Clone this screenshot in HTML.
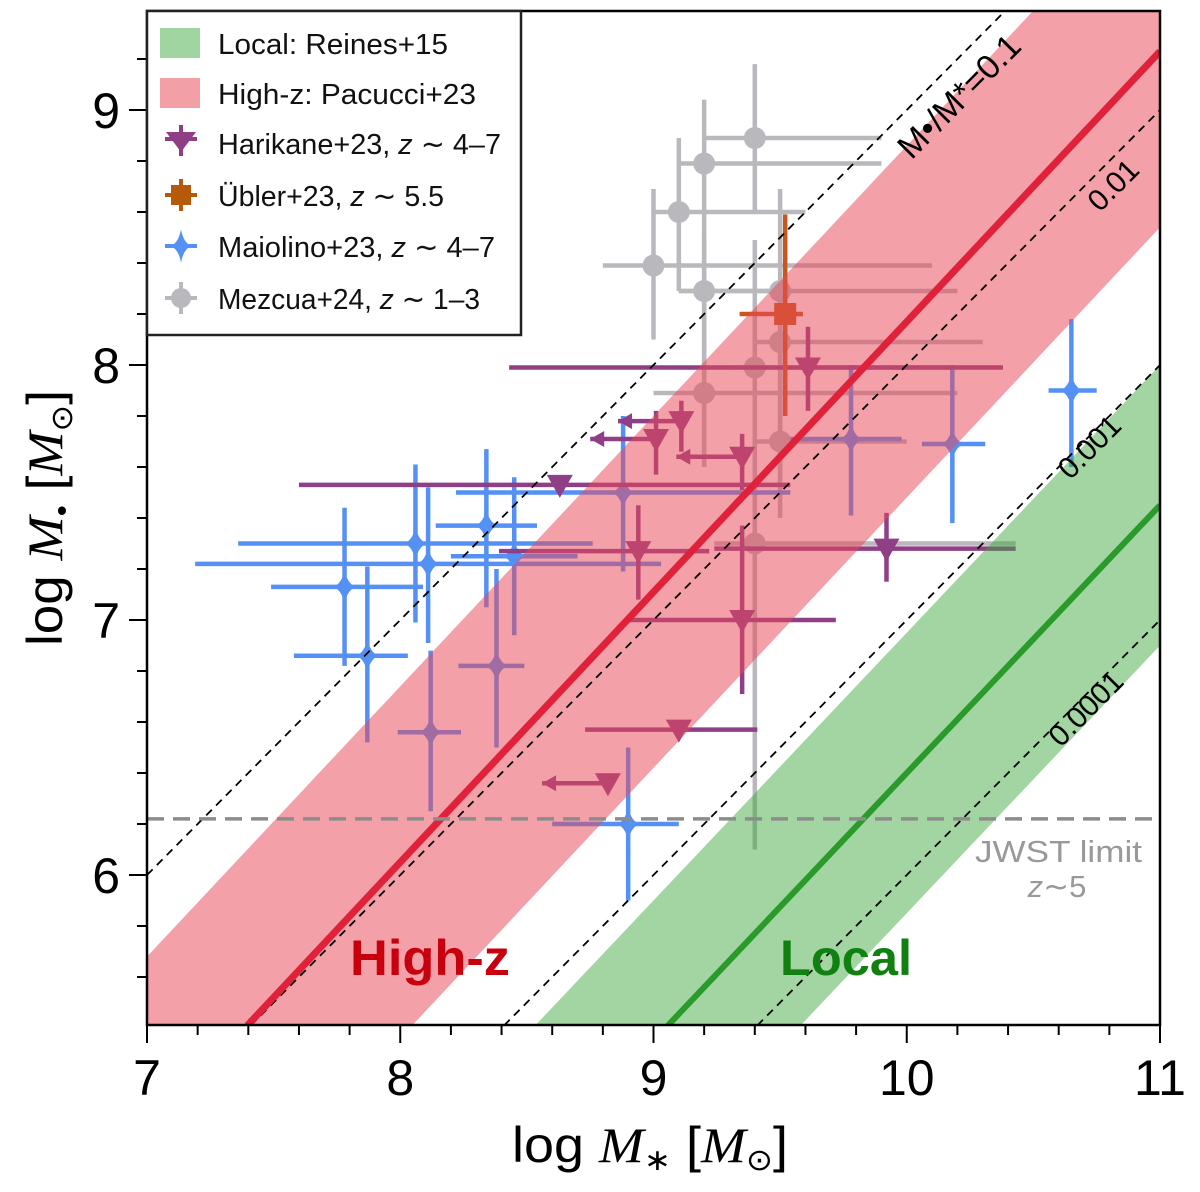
<!DOCTYPE html>
<html><head><meta charset="utf-8"><style>
html,body{margin:0;padding:0;background:#fff;width:1200px;height:1192px;overflow:hidden;}
svg{display:block;font-family:"Liberation Sans",sans-serif;}
</style></head><body>
<svg id="chart" width="1200" height="1192" viewBox="0 0 1200 1192">
<defs><clipPath id="clip"><rect x="147" y="11" width="1013" height="1014"/></clipPath></defs>
<g id="data" clip-path="url(#clip)"></g>
<g id="bands" clip-path="url(#clip)"></g>
<g id="lines" clip-path="url(#clip)"></g>
<g id="axes"></g>
<text x="512" y="1162" font-size="50" textLength="276" lengthAdjust="spacingAndGlyphs">log <tspan font-style="italic" font-family="Liberation Serif">M</tspan><tspan font-size="30" dy="8">∗</tspan><tspan dy="-8"> [</tspan><tspan font-style="italic" font-family="Liberation Serif">M</tspan><tspan font-size="30" dy="8">⊙</tspan><tspan dy="-8">]</tspan></text>
<text x="62" y="518" font-size="50" text-anchor="middle" textLength="256" lengthAdjust="spacingAndGlyphs" transform="rotate(-90 62 518)">log <tspan font-style="italic" font-family="Liberation Serif">M</tspan><tspan font-size="30" dy="10">•</tspan><tspan dy="-10"> [</tspan><tspan font-style="italic" font-family="Liberation Serif">M</tspan><tspan font-size="30" dy="10">⊙</tspan><tspan dy="-10">]</tspan></text>
<text x="350" y="975" font-size="50" font-weight="bold" fill="#c8000e" textLength="160" lengthAdjust="spacingAndGlyphs">High-z</text>
<text x="780" y="975" font-size="50" font-weight="bold" fill="#108010" textLength="132" lengthAdjust="spacingAndGlyphs">Local</text>
<text x="1142" y="862" font-size="31" fill="#999" text-anchor="end" textLength="167" lengthAdjust="spacingAndGlyphs">JWST limit</text>
<text x="1057" y="897" font-size="31" fill="#999" text-anchor="middle"><tspan font-style="italic">z</tspan>∼5</text>
<g>
<rect x="147" y="11" width="374" height="324" fill="#fff" stroke="#222" stroke-width="2.5"/>
<rect x="160" y="28" width="40" height="30" fill="#a0d4a0"/>
<rect x="160" y="78" width="40" height="30" fill="#f29fa6"/>
<path d="M166 132L196 132L181 152Z" fill="#8f3f86"/><line x1="165" y1="139" x2="197" y2="139" stroke="#8f3f86" stroke-width="4"/><line x1="181" y1="125" x2="181" y2="156" stroke="#8f3f86" stroke-width="4"/>
<rect x="171" y="185" width="20" height="20" fill="#b65a0a"/><line x1="165" y1="195" x2="197" y2="195" stroke="#b65a0a" stroke-width="4"/><line x1="181" y1="179" x2="181" y2="211" stroke="#b65a0a" stroke-width="4"/>
<path d="M181 229Q183 242 191 246Q183 250 181 263Q179 250 171 246Q179 242 181 229Z" fill="#5590f5"/><line x1="165" y1="246" x2="197" y2="246" stroke="#5590f5" stroke-width="4"/>
<circle cx="181" cy="298" r="10" fill="#b9b9bd"/><line x1="165" y1="298" x2="197" y2="298" stroke="#b9b9bd" stroke-width="4"/><line x1="181" y1="282" x2="181" y2="314" stroke="#b9b9bd" stroke-width="4"/>
<g font-size="29" fill="#111">
<text x="218" y="54" textLength="230" lengthAdjust="spacingAndGlyphs">Local: Reines+15</text>
<text x="218" y="104" textLength="258" lengthAdjust="spacingAndGlyphs">High-z: Pacucci+23</text>
<text x="218" y="154" textLength="283" lengthAdjust="spacingAndGlyphs">Harikane+23, <tspan font-style="italic">z</tspan> ∼ 4–7</text>
<text x="218" y="206" textLength="226" lengthAdjust="spacingAndGlyphs">Übler+23, <tspan font-style="italic">z</tspan> ∼ 5.5</text>
<text x="218" y="257" textLength="277" lengthAdjust="spacingAndGlyphs">Maiolino+23, <tspan font-style="italic">z</tspan> ∼ 4–7</text>
<text x="218" y="309" textLength="262" lengthAdjust="spacingAndGlyphs">Mezcua+24, <tspan font-style="italic">z</tspan> ∼ 1–3</text>
</g>
</g>
</svg>
<script>
// ---- data ----
const mezX=[9.40,9.20,9.10,9.00,9.20,9.50,9.50,9.40,9.20,9.50,9.40];
const mezY=[8.89,8.79,8.60,8.39,8.29,8.29,8.09,7.99,7.89,7.70,7.30];
const mezXlo=[9.20,9.10,9.00,8.80,9.10,9.10,9.40,9.30,9.00,9.40,9.24];
const mezXhi=[9.90,9.90,9.60,10.10,9.50,10.20,10.30,10.19,10.20,10.00,10.43];
const mezYlo=[8.60,7.60,8.29,8.10,8.10,7.40,7.90,7.30,7.60,7.50,6.10];
const mezYhi=[9.18,9.04,8.89,8.69,8.50,8.69,8.29,8.49,8.10,7.90,7.50];

const harX=[8.63,9.01,9.11,9.35,9.61,8.94,9.92,9.35,9.10,8.82];
const harY=[7.53,7.71,7.78,7.64,7.99,7.27,7.28,7.00,6.57,6.36];
const harXlo=[7.60,8.75,8.86,9.09,8.43,8.39,9.24,8.90,8.73,8.56];
const harXhi=[9.54,9.01,9.11,9.35,10.38,9.22,10.43,9.72,9.41,8.82];
const harYlo=[7.53,7.57,7.66,7.51,7.82,7.08,7.15,6.71,6.57,6.36];
const harYhi=[7.53,7.82,7.86,7.73,8.15,7.45,7.42,7.37,6.57,6.36];
const harArrow=[0,1,1,1,0,0,0,0,0,1];

const maiX=[7.78,7.87,8.06,8.11,8.34,8.45,8.90,10.18,10.65,8.88,8.38,8.12,9.78];
const maiY=[7.13,6.86,7.30,7.22,7.37,7.25,6.20,7.69,7.90,7.50,6.82,6.56,7.71];
const maiXlo=[7.49,7.58,7.36,7.19,8.14,8.20,8.60,10.06,10.56,8.22,8.23,7.99,9.54];
const maiXhi=[8.09,8.03,8.76,9.03,8.54,8.70,9.10,10.31,10.75,9.54,8.49,8.24,9.98];
const maiYlo=[6.82,6.52,6.99,6.91,7.05,6.94,5.90,7.38,7.60,7.19,6.50,6.25,7.41];
const maiYhi=[7.44,7.21,7.61,7.52,7.67,7.56,6.50,8.00,8.18,7.80,7.20,6.88,8.00];

const ubX=[9.52], ubY=[8.20], ubXlo=[9.34], ubXhi=[9.59], ubYlo=[7.80], ubYhi=[8.59];

const xTicks=[7,8,9,10,11];
const yTicks=[6,7,8,9];
const ratios=[-1,-2,-3,-4];
const ratioLabels=["M•/M*=0.1","0.01","0.001","0.0001"];
const ratioLabelX=[10.13,10.76,10.70,10.68];
const hzSlope=1.06, hzInt=-2.43, hzWidth=0.69;
const locSlope=1.05, locInt=7.45, locPivot=11, locWidth=0.55;
const jwst=6.22;

// ---- scales ----
const XMIN=7,XMAX=11,YMIN=5.41,YMAX=9.39;
const X=v=>147+(v-7)*253.25;
const Y=v=>110+(9-v)*255;
const NS="http://www.w3.org/2000/svg";
function mk(tag,attrs,parent){const e=document.createElementNS(NS,tag);for(const k in attrs)e.setAttribute(k,attrs[k]);parent.appendChild(e);return e;}
const gD=document.getElementById('data'),gB=document.getElementById('bands'),gL=document.getElementById('lines'),gA=document.getElementById('axes');

// polygon clip (data space) against plot window
function clipPoly(pts){
  const edges=[[p=>p[0]>=XMIN,(a,b)=>{const t=(XMIN-a[0])/(b[0]-a[0]);return [XMIN,a[1]+t*(b[1]-a[1])];}],
               [p=>p[0]<=XMAX,(a,b)=>{const t=(XMAX-a[0])/(b[0]-a[0]);return [XMAX,a[1]+t*(b[1]-a[1])];}],
               [p=>p[1]>=YMIN,(a,b)=>{const t=(YMIN-a[1])/(b[1]-a[1]);return [a[0]+t*(b[0]-a[0]),YMIN];}],
               [p=>p[1]<=YMAX,(a,b)=>{const t=(YMAX-a[1])/(b[1]-a[1]);return [a[0]+t*(b[0]-a[0]),YMAX];}]];
  let out=pts;
  for(const [inside,inter] of edges){
    const inp=out;out=[];
    for(let i=0;i<inp.length;i++){
      const cur=inp[i],prev=inp[(i+inp.length-1)%inp.length];
      if(inside(cur)){if(!inside(prev))out.push(inter(prev,cur));out.push(cur);}
      else if(inside(prev))out.push(inter(prev,cur));
    }
  }
  return out;
}
function clipLine(f){ // line y=f(x) clipped to window, returns [x1,x2]
  const pts=clipPoly([[XMIN-1,f(XMIN-1)],[XMAX+1,f(XMAX+1)],[XMAX+1,f(XMAX+1)+1e-9],[XMIN-1,f(XMIN-1)+1e-9]]);
  const xs=pts.map(p=>p[0]);return [Math.min(...xs),Math.max(...xs)];
}
const cx_=v=>Math.max(XMIN,Math.min(XMAX,v)), cy_=v=>Math.max(YMIN,Math.min(YMAX,v));

function errbars(xs,ys,xlo,xhi,ylo,yhi,col,name,i){
  const g=mk('g',{},gD);
  
  
  mk('line',{x1:X(cx_(xlo[i])),x2:X(cx_(xhi[i])),y1:Y(ys[i]),y2:Y(ys[i]),stroke:col,'stroke-width':4.5},g);
  mk('line',{x1:X(xs[i]),x2:X(xs[i]),y1:Y(cy_(ylo[i])),y2:Y(cy_(yhi[i])),stroke:col,'stroke-width':4.5},g);
  return g;
}
mezX.forEach((_,i)=>{const g=errbars(mezX,mezY,mezXlo,mezXhi,mezYlo,mezYhi,'#b9b9bd','mezcua-point',i);
  mk('circle',{cx:X(mezX[i]),cy:Y(mezY[i]),r:11,fill:'#b9b9bd'},g);});
maiX.forEach((_,i)=>{const g=errbars(maiX,maiY,maiXlo,maiXhi,maiYlo,maiYhi,'#5590f5','maiolino-point',i);
  const cx=X(maiX[i]),cy=Y(maiY[i]);
  mk('path',{d:`M${cx} ${cy-18}Q${cx+2} ${cy-4} ${cx+11} ${cy}Q${cx+2} ${cy+4} ${cx} ${cy+18}Q${cx-2} ${cy+4} ${cx-11} ${cy}Q${cx-2} ${cy-4} ${cx} ${cy-18}Z`,fill:'#5590f5'},g);});
harX.forEach((_,i)=>{const g=errbars(harX,harY,harXlo,harXhi,harYlo,harYhi,'#8f3f86','harikane-point',i);
  const cx=X(harX[i]),cy=Y(harY[i]);
  mk('path',{d:`M${cx-13} ${cy-10}L${cx+13} ${cy-10}L${cx} ${cy+13}Z`,fill:'#8f3f86'},g);
  if(harArrow[i]){const ax=X(harXlo[i]);mk('path',{d:`M${ax} ${cy}L${ax+14} ${cy-8}L${ax+14} ${cy+8}Z`,fill:'#8f3f86'},g);}
});
ubX.forEach((_,i)=>{const g=errbars(ubX,ubY,ubXlo,ubXhi,ubYlo,ubYhi,'#c9561a','ubler-point',i);
  mk('rect',{x:X(ubX[i])-11,y:Y(ubY[i])-11,width:22,height:22,fill:'#c9561a'},g);});

function band(slope,int,piv,w,fill,op,name){
  const f=x=>int+slope*(x-piv);
  const pts=clipPoly([[6,f(6)+w],[12,f(12)+w],[12,f(12)-w],[6,f(6)-w]]);
  const d='M'+pts.map(p=>X(p[0]).toFixed(1)+' '+Y(p[1]).toFixed(1)).join('L')+'Z';
  const p=mk('path',{d:d,fill:fill,'fill-opacity':op},gB);
  
  
}
band(hzSlope,hzInt,0,hzWidth,'#e84858',0.52,'highz-band');
band(locSlope,locInt,locPivot,locWidth,'#3ca83c',0.48,'local-band');

const labOff=[30,22,10,12];
const labSize=[34,30,30,30];
ratios.forEach((r,i)=>{
  const f=x=>x+r;
  const [a,b]=clipLine(f);
  const l=mk('line',{x1:X(a),y1:Y(f(a)),x2:X(b),y2:Y(f(b)),stroke:'#000','stroke-width':1.8,'stroke-dasharray':'8,6'},gL);
  
  
  const tx=X(ratioLabelX[i])+labOff[i]*0.707,ty=Y(ratioLabelX[i]+r)+labOff[i]*0.707;
  const t=mk('text',{x:tx,y:ty,'font-size':labSize[i],'text-anchor':'middle','dominant-baseline':'middle',transform:`rotate(-45.2 ${tx} ${ty})`,fill:'#000'},gL);
  t.textContent=ratioLabels[i];
  
  
});
const fh=x=>hzInt+hzSlope*x;
let [h1,h2]=clipLine(fh);
let l1=mk('line',{x1:X(h1),y1:Y(fh(h1)),x2:X(h2),y2:Y(fh(h2)),stroke:'#e0213a','stroke-width':7},gL);


const fl=x=>locInt+locSlope*(x-locPivot);
let [k1,k2]=clipLine(fl);
let l2=mk('line',{x1:X(k1),y1:Y(fl(k1)),x2:X(k2),y2:Y(fl(k2)),stroke:'#2a9a2a','stroke-width':6},gL);


let jl=mk('line',{x1:147,x2:1160,y1:Y(jwst),y2:Y(jwst),stroke:'#8c8c8c','stroke-width':3.5,'stroke-dasharray':'17,9'},gL);



let fr=mk('rect',{x:147,y:11,width:1013,height:1014,fill:'none',stroke:'#000','stroke-width':2.5},gA);


for(let v=7;v<=11.001;v+=0.2){const big=Math.abs(v-Math.round(v))<1e-6;
  mk('line',{x1:X(v),x2:X(v),y1:1025,y2:1025+(big?18:10),stroke:'#000','stroke-width':2},gA);}
for(let v=5.6;v<=9.381;v+=0.2){const big=Math.abs(v-Math.round(v))<1e-6;
  mk('line',{x1:147,x2:147-(big?18:10),y1:Y(v),y2:Y(v),stroke:'#000','stroke-width':2},gA);}
xTicks.forEach(v=>{const t=mk('text',{x:X(v),y:1095,'font-size':50,'text-anchor':'middle'},gA);t.textContent=v;
  
  });
yTicks.forEach(v=>{const t=mk('text',{x:120,y:Y(v)+18,'font-size':50,'text-anchor':'end'},gA);t.textContent=v;
  
  });
</script>
</body></html>
